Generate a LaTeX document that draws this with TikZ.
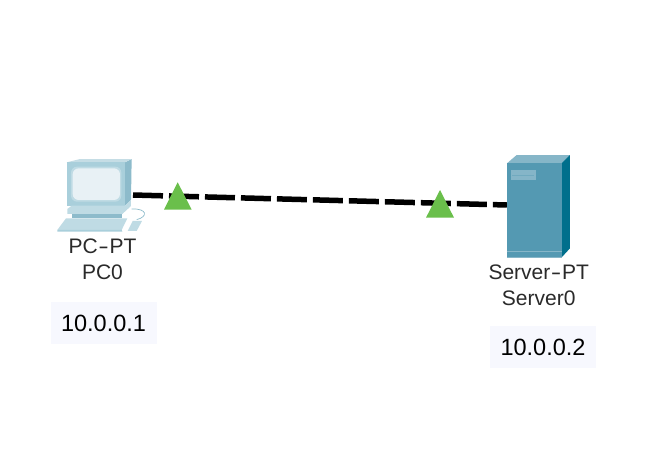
\documentclass[tikz,border=0pt]{standalone}
\usepackage{fontspec}
\setmainfont{Liberation Sans}
\definecolor{ipfill}{HTML}{F7F8FE}
\definecolor{labeltext}{HTML}{2A2A2A}
\definecolor{triGreen}{HTML}{6ABF4B}
\definecolor{pcA}{HTML}{A9CFDB}
\definecolor{pcB}{HTML}{8DBBCB}
\definecolor{pcC}{HTML}{BFDBE4}
\definecolor{pcD}{HTML}{E8F1F5}
\definecolor{pcE}{HTML}{C5DDE5}
\definecolor{srvFront}{HTML}{5499B2}
\definecolor{srvTop}{HTML}{86B6C8}
\definecolor{srvSide}{HTML}{006F8C}
\definecolor{srvBadge}{HTML}{85B5C8}
\newcommand{\longhy}{\kern0.6pt\scalebox{1.5}[1]{-}\kern0.6pt}
\tikzset{
  lbl/.style={font=\fontsize{21pt}{26pt}\selectfont,text=labeltext,align=center,inner sep=0pt},
  ipbox/.style={fill=ipfill,minimum width=106pt,minimum height=42pt,inner sep=0pt,font=\fontsize{23.5pt}{26pt}\selectfont,text=black},
  marker/.style={fill=triGreen,draw=none},
  linkline/.style={line width=5.5pt,draw=black,dash pattern=on 30pt off 6pt},
  zoomA/.style={shift={(40,145)},x=0.3333pt,y=-0.3333pt},
  zoomB/.style={shift={(420,145)},x=0.3333pt,y=-0.3333pt}
}
\begin{document}
\begin{tikzpicture}[x=1pt,y=-1pt]
\useasboundingbox (0,0) rectangle (646,472);
\fill[white] (0,0) rectangle (646,472);
% PC
\begin{scope}[zoomA]
\fill[pcB] (255,52) -- (275,42) -- (273,165) -- (255,182) -- cycle;
\fill[pcE] (80,52) -- (120,42) -- (275,42) -- (255,52) -- cycle;
\fill[pcA] (80,52) rectangle (255,182);
\fill[pcC,rounded corners=6pt] (93,65) rectangle (244,170);
\fill[pcD,rounded corners=6pt] (98,70) rectangle (240,165);
\fill[pcB] (95,182) rectangle (245,190);
\fill[pcC] (82,192) -- (95,182) -- (255,182) -- (273,165) -- (273,183) -- (247,207) -- (82,207) -- cycle;
\fill[pcB] (97,207) rectangle (247,219);
\draw[pcB,line width=0.7pt] (275,192) .. controls (322,190) and (325,215) .. (290,224);
\fill[pcC] (52,255) -- (78,220) -- (262,220) -- (245,255) -- cycle;
\fill[pcA] (52,255) -- (245,255) -- (247,260) -- (52,260) -- cycle;
\fill[pcC] (263,258) -- (278,228) -- (306,228) -- (290,258) -- cycle;
\end{scope}
% Server
\begin{scope}[zoomB]
\fill[srvTop] (261,55) -- (290,30) -- (450,30) -- (425,55) -- cycle;
\fill[srvSide] (425,55) -- (450,30) -- (450,310) -- (425,337) -- cycle;
\fill[srvFront] (261,55) rectangle (425,337);
\fill[srvBadge] (273,76) rectangle (347,106);
\draw[srvFront!40!srvBadge,line width=0.6pt] (277,91) -- (343,91);
\draw[srvTop,line width=0.7pt] (261,318) -- (425,318);
\draw[srvTop,line width=0.8pt] (261,336.5) -- (425,336.5);
\end{scope}
% invisible anchors of the devices
\node[inner sep=0pt,minimum width=58pt,minimum height=44pt] (pc) at (96,184) {};
\node[inner sep=0pt,minimum width=54pt,minimum height=94pt] (server) at (534,203) {};
\coordinate (pcport) at (133,195);
\coordinate (srvport) at (server.west |- 0,205);
% connector
\draw[linkline] (pcport) -- (srvport);
% link markers
\fill[marker] (177.7,182.3) -- (191.7,209.7) -- (164,209.7) -- cycle;
\fill[marker] (440,190) -- (454,217.7) -- (426,217.7) -- cycle;
% labels
\node[lbl] (pclabel) at (102.5,259.5) {PC\longhy PT\\PC0};
\node[lbl] (srvlabel) at (538.7,285) {Server\longhy PT\\Server0};
\node[ipbox] (ip1) at (103.5,323) {10.0.0.1};
\node[ipbox] (ip2) at (543,347) {10.0.0.2};
\end{tikzpicture}
\end{document}
